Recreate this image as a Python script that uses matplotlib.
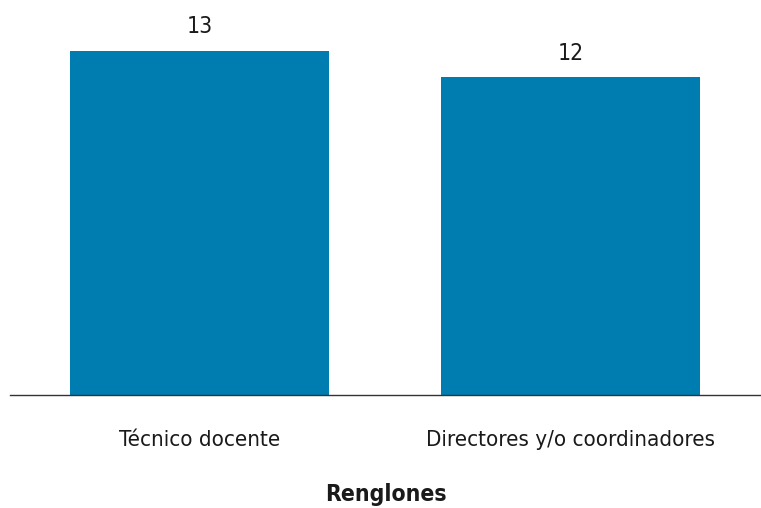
import numpy as np
import matplotlib.pyplot as plt

categories = ['Técnico docente', 'Directores y/o coordinadores']
values = [13, 12]
xlabel = 'Renglones'

plt.rcParams['font.family'] = ['DejaVu Sans']
plt.rcParams['font.stretch'] = 'condensed'

fig = plt.figure(figsize=(7.61, 5.08), dpi=100)
ax = fig.add_axes([10 / 761, (508 - 395) / 508, 751 / 761, 395 / 508])

x = np.arange(len(categories))
bars = ax.bar(x, values, width=0.698, color='#007DB0')
for b, v in zip(bars, values):
    ax.annotate(str(v), (b.get_x() + b.get_width() / 2, v), xytext=(0, 9),
                textcoords='offset points', ha='center', va='bottom', fontsize=16.5, color='#1a1a1a')

ax.set_xlim(-0.511, 1.513)
ax.set_ylim(0, 14.92)
ax.set_xticks(x)
ax.set_xticklabels(categories, fontsize=16, color='#1a1a1a')
ax.tick_params(axis='x', length=0, pad=25)
ax.set_yticks([])
for s in ['top', 'right', 'left']:
    ax.spines[s].set_visible(False)
ax.spines['bottom'].set_color('#333333')
ax.spines['bottom'].set_linewidth(1)
ax.set_xlabel(xlabel, fontsize=16.5, fontweight='bold', color='#1a1a1a', labelpad=24)

fig.savefig('out.png', dpi=100)
